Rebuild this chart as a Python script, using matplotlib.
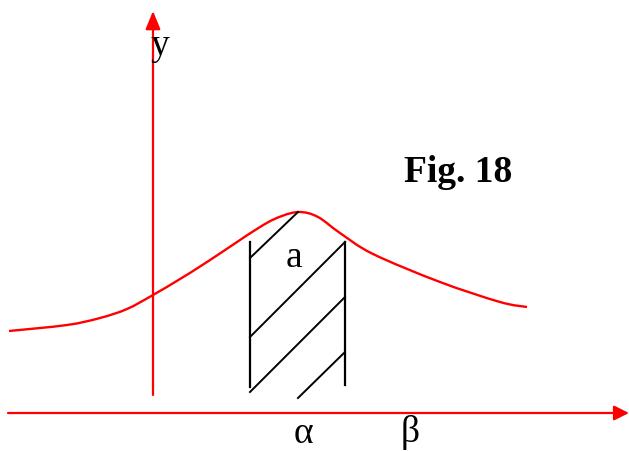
import matplotlib
matplotlib.use("Agg")
import matplotlib.pyplot as plt
from matplotlib.path import Path
from matplotlib.patches import PathPatch

# curve through the peak, sampled in image units (x right, y down)
curve_x = [9, 67, 100, 127, 153, 180, 207, 260, 282, 300, 318, 340, 373, 440, 500, 527]
curve_y = [331, 325, 318, 309, 295, 279, 262, 227, 216, 212, 217, 233, 254, 282, 302, 307]

# vertical bounds of the shaded strip
strip_x = [250, 345]
strip_top = [242, 242]
strip_bottom = [387, 385]

# hatch segments: (x0, y0, x1, y1)
hatch = [
    (250, 258, 298, 212),
    (250, 337, 345, 242),
    (250, 392, 345, 297),
    (298, 398, 345, 352),
]

labels = {"y": (160, 46), "a": (294, 258), "α": (303, 434), "β": (410, 433)}
title = "Fig. 18"


def smooth_path(xs, ys):
    # Catmull-Rom through the samples, written as cubic Bezier segments
    pts = list(zip(xs, ys))
    verts = [pts[0]]
    codes = [Path.MOVETO]
    for i in range(len(pts) - 1):
        p0 = pts[max(i - 1, 0)]
        p1, p2 = pts[i], pts[i + 1]
        p3 = pts[min(i + 2, len(pts) - 1)]
        c1 = (p1[0] + (p2[0] - p0[0]) / 6, p1[1] + (p2[1] - p0[1]) / 6)
        c2 = (p2[0] - (p3[0] - p1[0]) / 6, p2[1] - (p3[1] - p1[1]) / 6)
        verts += [c1, c2, p2]
        codes += [Path.CURVE4] * 3
    return Path(verts, codes)


fig = plt.figure(figsize=(6.29, 4.51), dpi=100)
ax = fig.add_axes([0, 0, 1, 1])
ax.set_xlim(0, 629)
ax.set_ylim(451, 0)
ax.axis("off")

red = "#ff0000"
serif = ["Liberation Serif", "DejaVu Serif"]

# axes with arrowheads
ax.annotate("", xy=(629, 413), xytext=(8, 413),
            arrowprops=dict(arrowstyle="-|>,head_length=0.9,head_width=0.45",
                            color=red, lw=1.6, shrinkA=0, shrinkB=0))
ax.annotate("", xy=(153, 11), xytext=(153, 395),
            arrowprops=dict(arrowstyle="-|>,head_length=1.1,head_width=0.45",
                            color=red, lw=1.6, shrinkA=0, shrinkB=0))

ax.add_patch(PathPatch(smooth_path(curve_x, curve_y), facecolor="none",
                       edgecolor=red, lw=1.7))

for x, y0, y1 in zip(strip_x, strip_top, strip_bottom):
    ax.plot([x, x], [y0, y1], color="black", lw=1.6)
for x0, y0, x1, y1 in hatch:
    ax.plot([x0, x1], [y0, y1], color="black", lw=1.4)

for txt, (x, y) in labels.items():
    ax.text(x, y, txt, fontsize=27, family=serif, ha="center", va="center")

ax.text(458, 172, title, fontsize=27, family=serif, weight="bold",
        ha="center", va="center")

fig.savefig("out.png", dpi=100)
